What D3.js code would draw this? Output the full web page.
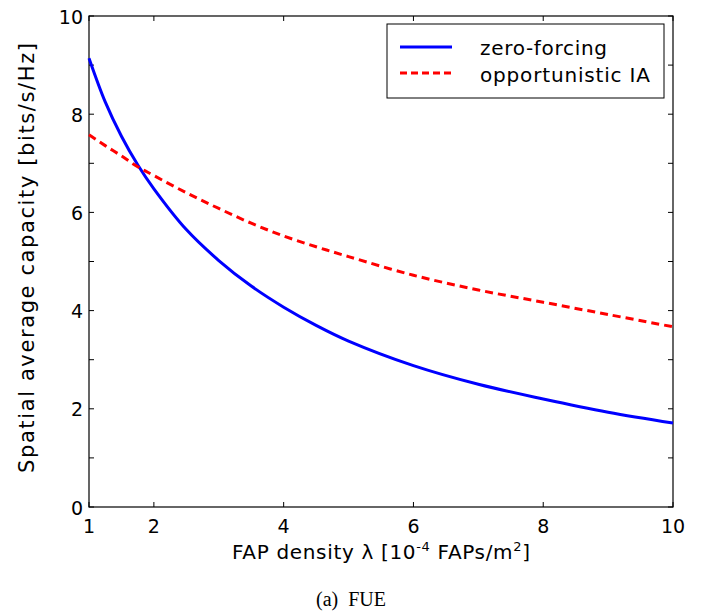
<!DOCTYPE html>
<html><head><meta charset="utf-8">
<script src="https://cdn.jsdelivr.net/npm/d3@7"></script>
<style>body{margin:0;background:#fff}</style>
</head><body>
<svg id="c" width="712" height="616"></svg>
<script>
const xVals = [1, 1.25, 1.5, 1.75, 2, 2.5, 3, 3.5, 4, 4.5, 5, 6, 7, 8, 9, 10];
const zeroForcing = [9.14, 8.25, 7.55, 6.97, 6.48, 5.65, 5.02, 4.5, 4.07, 3.7, 3.38, 2.88, 2.5, 2.2, 1.93, 1.71];
const opportunisticIA = [7.58, 7.36, 7.15, 6.93, 6.75, 6.4, 6.08, 5.78, 5.52, 5.3, 5.1, 4.72, 4.42, 4.17, 3.92, 3.67];
const xTicks = [1, 2, 4, 6, 8, 10];
const yTicks = [0, 1, 2, 3, 4, 5, 6, 7, 8, 9, 10];
const yLabels = [0, 2, 4, 6, 8, 10];
const seriesNames = ["zero-forcing", "opportunistic IA"];

const svg = d3.select("#c");
const L = 89, R = 673, T = 16, B = 507;
const x = d3.scaleLinear().domain([1, 10]).range([L, R]);
const y = d3.scaleLinear().domain([0, 10]).range([B, T]);
const font = "DejaVu Sans, sans-serif";

// frame
svg.append("rect").attr("x", L).attr("y", T).attr("width", R - L).attr("height", B - T)
  .attr("fill", "none").attr("stroke", "#000").attr("stroke-width", 1.2);

// ticks (inward, both sides)
const tl = 5;
const g = svg.append("g").attr("stroke", "#000").attr("stroke-width", 1);
xTicks.forEach(v => {
  g.append("line").attr("x1", x(v)).attr("x2", x(v)).attr("y1", B).attr("y2", B - tl);
  g.append("line").attr("x1", x(v)).attr("x2", x(v)).attr("y1", T).attr("y2", T + tl);
});
yTicks.forEach(v => {
  g.append("line").attr("x1", L).attr("x2", L + tl).attr("y1", y(v)).attr("y2", y(v));
  g.append("line").attr("x1", R).attr("x2", R - tl).attr("y1", y(v)).attr("y2", y(v));
});

// tick labels
xTicks.forEach(v => {
  svg.append("text").attr("x", x(v)).attr("y", B + 26).attr("text-anchor", "middle")
    .attr("font-family", font).attr("font-size", 19).text(v);
});
yLabels.forEach(v => {
  svg.append("text").attr("x", L - 6).attr("y", y(v) + 7.5).attr("text-anchor", "end")
    .attr("font-family", font).attr("font-size", 19).text(v);
});

// lines
const line = d3.line().x(d => x(d[0])).y(d => y(d[1])).curve(d3.curveCatmullRom);
const plot = svg.append("g");
plot.append("path").datum(xVals.map((v, i) => [v, zeroForcing[i]]))
  .attr("d", line).attr("fill", "none").attr("stroke", "#0000ff").attr("stroke-width", 3);
plot.append("path").datum(xVals.map((v, i) => [v, opportunisticIA[i]]))
  .attr("d", line).attr("fill", "none").attr("stroke", "#ff0000").attr("stroke-width", 3)
  .attr("stroke-dasharray", "8,5");

// legend
const lg = svg.append("g");
lg.append("rect").attr("x", 387).attr("y", 24).attr("width", 277).attr("height", 74)
  .attr("fill", "#fff").attr("stroke", "#000").attr("stroke-width", 1);
lg.append("line").attr("x1", 400).attr("x2", 452).attr("y1", 47).attr("y2", 47)
  .attr("stroke", "#0000ff").attr("stroke-width", 3);
lg.append("line").attr("x1", 400).attr("x2", 452).attr("y1", 73).attr("y2", 73)
  .attr("stroke", "#ff0000").attr("stroke-width", 3).attr("stroke-dasharray", "7,4");
const legendW = [127, 170];
seriesNames.forEach((n, i) => {
  lg.append("text").attr("x", 480).attr("y", 55 + i * 27).attr("font-family", font)
    .attr("font-size", 20).attr("textLength", legendW[i]).attr("lengthAdjust", "spacing").text(n);
});

// axis labels
const xl = svg.append("text").attr("x", 232).attr("y", 559)
  .attr("font-family", font).attr("font-size", 20).attr("textLength", 298).attr("lengthAdjust", "spacing");
xl.append("tspan").text("FAP density \u03bb [10");
xl.append("tspan").attr("font-size", 13).attr("dy", -8).text("-4");
xl.append("tspan").attr("dy", 8).text(" FAPs/m");
xl.append("tspan").attr("font-size", 13).attr("dy", -8).text("2");
xl.append("tspan").attr("dy", 8).text("]");

svg.append("text").attr("transform", "translate(34,258) rotate(-90)").attr("text-anchor", "middle")
  .attr("font-family", font).attr("font-size", 21).attr("textLength", 430).attr("lengthAdjust", "spacing")
  .text("Spatial average capacity [bits/s/Hz]");

svg.append("text").attr("x", 351).attr("y", 606).attr("text-anchor", "middle")
  .attr("font-family", "Liberation Serif, serif").attr("font-size", 20).text("(a)\u00a0\u00a0FUE");
</script>
</body></html>
